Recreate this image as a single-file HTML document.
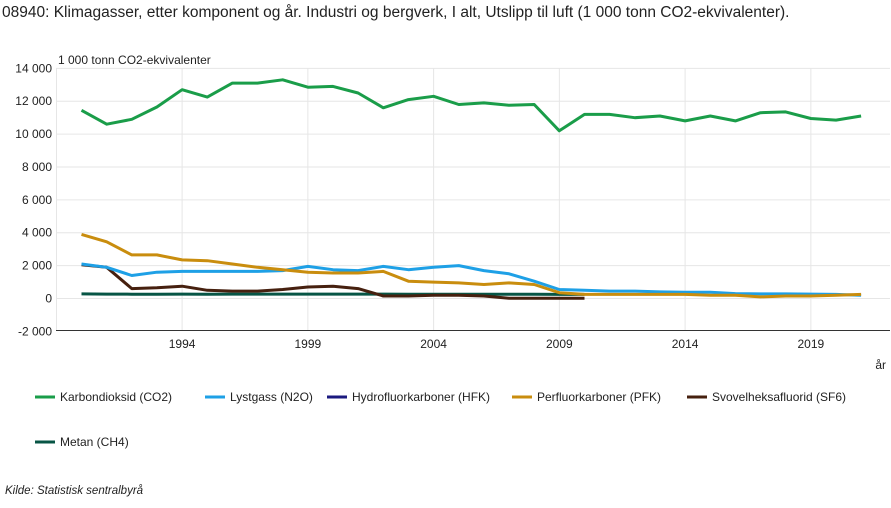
<!DOCTYPE html>
<html><head><meta charset="utf-8"><style>
body{margin:0;background:#fff;font-family:"Liberation Sans",sans-serif;}
svg text{font-family:"Liberation Sans",sans-serif;fill:#222;}
</style></head><body>
<svg width="891" height="503" xmlns="http://www.w3.org/2000/svg">
<text x="2" y="17" font-size="15.5" fill="#222">08940: Klimagasser, etter komponent og år. Industri og bergverk, I alt, Utslipp til luft (1 000 tonn CO2-ekvivalenter).</text>
<text x="58" y="64" font-size="12">1 000 tonn CO2-ekvivalenter</text>
<g id="grid" stroke="#e6e6e6" stroke-width="1"></g>
<g id="yl" font-size="12" text-anchor="end"></g>
<g id="xl" font-size="12" text-anchor="middle"></g>
<line x1="56" y1="330.5" x2="890" y2="330.5" stroke="#333" stroke-width="1"/>
<text x="886" y="369" font-size="12" text-anchor="end">år</text>
<g id="series" fill="none" stroke-width="3" stroke-linejoin="round"></g>
<g font-size="12">
<line x1="35" y1="397" x2="55" y2="397" stroke="#1a9d49" stroke-width="3"/><text x="60" y="401">Karbondioksid (CO2)</text>
<line x1="205" y1="397" x2="225" y2="397" stroke="#1ea0e6" stroke-width="3"/><text x="230" y="401">Lystgass (N2O)</text>
<line x1="327" y1="397" x2="347" y2="397" stroke="#1b1a7f" stroke-width="3"/><text x="352" y="401">Hydrofluorkarboner (HFK)</text>
<line x1="512" y1="397" x2="532" y2="397" stroke="#c98d0e" stroke-width="3"/><text x="537" y="401">Perfluorkarboner (PFK)</text>
<line x1="687" y1="397" x2="707" y2="397" stroke="#46200f" stroke-width="3"/><text x="712" y="401">Svovelheksafluorid (SF6)</text>
<line x1="35" y1="442" x2="55" y2="442" stroke="#075545" stroke-width="3"/><text x="60" y="446">Metan (CH4)</text>
<text x="5" y="494" font-style="italic" font-size="11.5">Kilde:  Statistisk sentralbyrå</text>
</g>
<script>
var ns="http://www.w3.org/2000/svg";
function el(p,t,a,txt){var e=document.createElementNS(ns,t);for(var k in a)e.setAttribute(k,a[k]);if(txt!==undefined)e.textContent=txt;document.getElementById(p).appendChild(e);}
function Y(v){return 298.5-v*0.01644;}
function X(y){return 81.5+(y-1990)*25.15;}
for(var v=-2000;v<=14000;v+=2000){if(v>-2000)el("grid","line",{x1:56,x2:890,y1:Y(v),y2:Y(v)});el("yl","text",{x:52,y:Y(v)+4},(v<0?"-":"")+(Math.abs(v)>=1000?Math.floor(Math.abs(v)/1000)+" 000":"0"));}
[1994,1999,2004,2009,2014,2019].forEach(function(y){el("grid","line",{x1:X(y),x2:X(y),y1:Y(14000),y2:330});el("xl","text",{x:X(y),y:348},y);});
el("grid","line",{x1:56.5,x2:56.5,y1:Y(14000),y2:330});
var S=[
["#075545",[280,270,260,260,270,260,270,270,270,270,270,270,270,260,260,260,260,260,260,250,250]],
["#46200f",[2050,1900,600,650,750,500,450,450,550,700,750,600,150,150,200,200,150,20,20,20,20]],
["#1ea0e6",[2100,1900,1400,1600,1650,1650,1650,1650,1700,1950,1750,1700,1950,1750,1900,2000,1700,1500,1050,550,500,450,450,400,380,380,300,280,280,270,250,200]],
["#c98d0e",[3900,3450,2650,2650,2350,2300,2100,1900,1750,1600,1550,1550,1650,1050,1000,950,850,950,850,350,250,250,250,250,250,200,200,100,150,150,200,250]],
["#1a9d49",[11450,10600,10900,11650,12700,12250,13100,13100,13300,12850,12900,12500,11600,12100,12300,11800,11900,11750,11800,10200,11200,11200,11000,11100,10800,11100,10800,11300,11350,10950,10850,11100]]];
S.forEach(function(s){var p=s[1].map(function(v,i){return X(1990+i).toFixed(1)+","+Y(v).toFixed(1);}).join(" ");el("series","polyline",{points:p,stroke:s[0]});});
</script>
</svg>
</body></html>
